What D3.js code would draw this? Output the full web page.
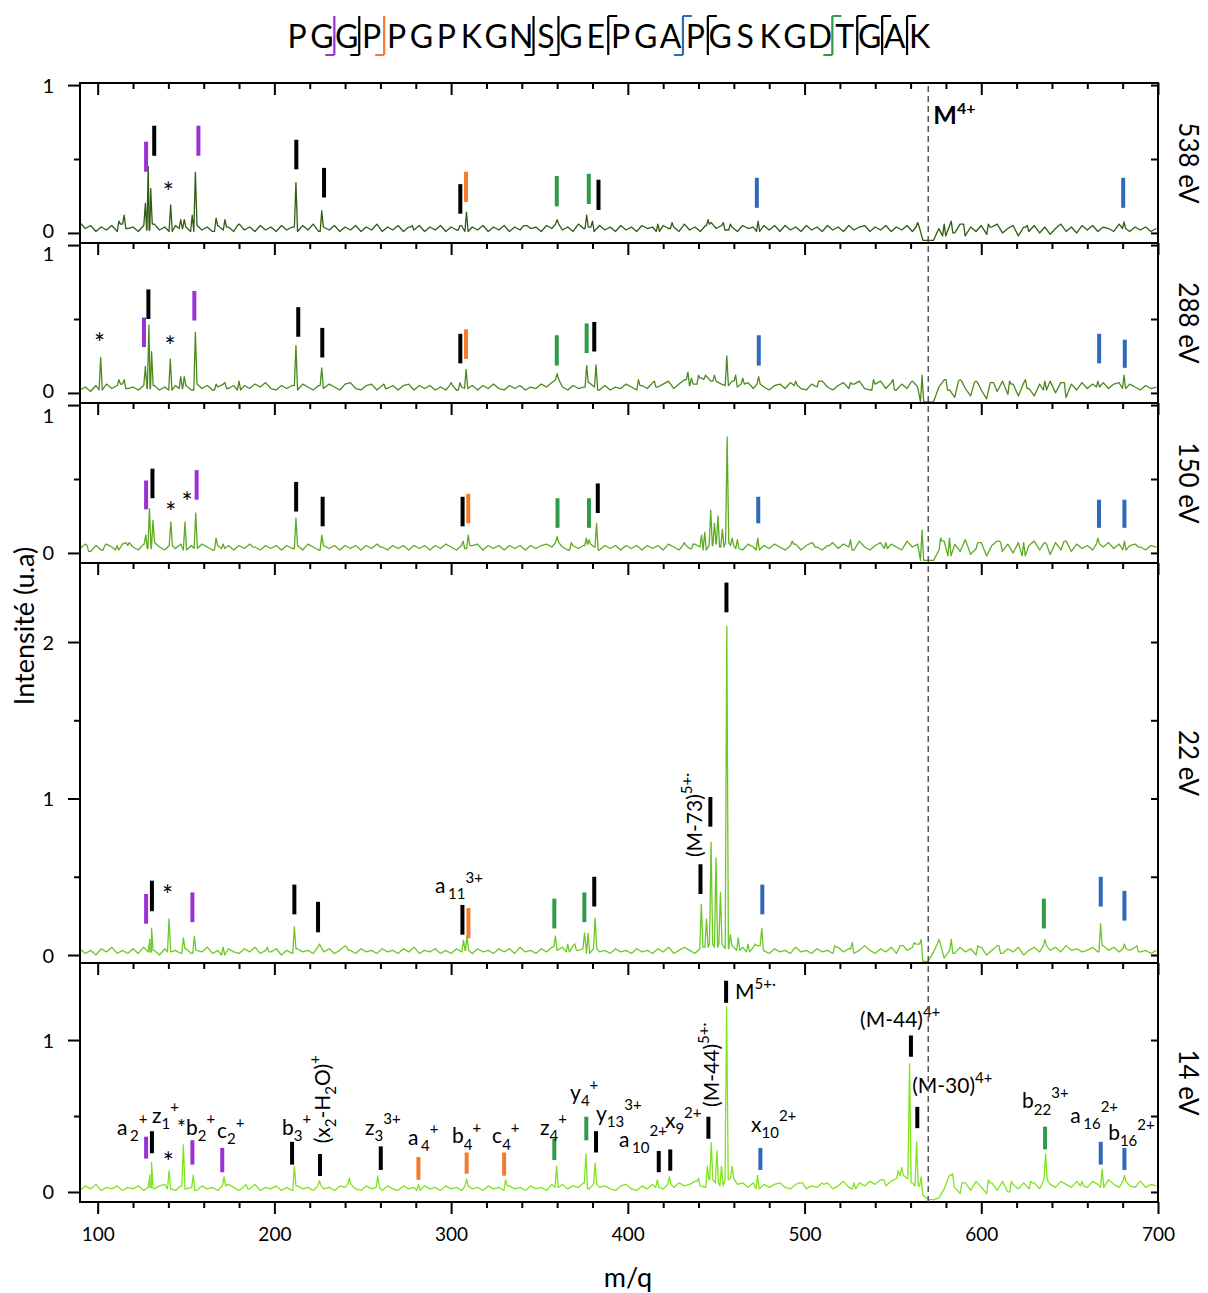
<!DOCTYPE html>
<html><head><meta charset="utf-8">
<script src="https://cdn.jsdelivr.net/npm/d3@7"></script>
<style>body{margin:0;background:#fff} svg{font-family:Lato,"Open Sans",sans-serif}</style>
</head><body><svg id="c" width="1208" height="1293"></svg>
<script>
// ---------- DATA ----------
const residues = "PGGPPGPKGNSGEPGAPGSKGDTGAK".split("");
// [index after which cleavage occurs, shape (b=bottom foot, t=top bar, s=both), colour key]
const cleavages = [[1,"b","p"],[2,"b","k"],[3,"b","o"],[9,"b","k"],[10,"b","k"],[12,"t","k"],[15,"s","bl"],[16,"t","k"],[21,"s","g"],[22,"t","k"],[23,"t","k"],[24,"t","k"]];
const energies = ["538 eV","288 eV","150 eV","22 eV","14 eV"];
const xMajorTicks = [100,200,300,400,500,600,700];
const xTickLabels = ["100","200","300","400","500","600","700"];
const parentMz = 570;

// baselines: intensity x100, m/q = 90 + 3*i
const base538 = [7,3,5,1,4,2,5,1,6,3, 4,1,5,2,6,2,4,1,5,3, 4,1,5,2,4,1,5,2,4,1, 5,2,4,1,5,2,4,1,5,2, 4,1,5,2,6,1,4,2,5,1,
 4,2,5,1,4,2,6,1,4,2, 5,1,4,2,5,1,4,2,5,1, 4,2,5,1,4,2,5,1,4,2, 5,1,4,2,5,3,4,1,5,3, 6,2,4,1,6,3,4,1,5,2,
 4,1,5,2,4,1,5,3,4,1, 5,3,4,1,6,2,4,1,5,6, 3,5,2,4,1,5,3,4,1,5, 2,4,1,5,2,4,1,5,2,4, 1,5,2,4,1,5,2,4,5,1,
 4,2,5,1,4,2,5,1,4,-5, -5,-5,3,-2,5,0,6,-2,4,1, 5,-1,4,6,0,3,5,-2,4,1, 5,0,4,-1,3,6,1,4,0,5, 2,5,1,4,3,1,6,3,1,4, 2,4,1,3];
const base288 = [2,4,1,5,2,6,3,5,6,3, 4,2,5,3,5,2,4,2,5,3, 5,2,6,3,5,2,4,6,3,5, 2,5,3,6,4,7,3,2,5,3, 5,2,6,4,2,5,3,6,4,2,
 6,7,3,2,5,6,2,5,3,5, 2,5,6,2,5,3,5,2,4,2, 5,2,4,3,5,2,5,3,6,3, 2,5,3,5,2,4,3,6,4,7, 9,4,2,5,3,4,7,4,2,5,
 2,4,3,6,4,2,5,3,7,4, 6,8,3,6,9,5,6,10,12,8, 8,6,5,8,4,6,7,3,6,4, 2,5,6,3,7,5,3,2,6,4, 8,4,2,5,7,3,6,8,3,2,
 6,8,3,7,2,6,3,7,4,-6, -6,-6,4,9,2,-3,8,3,-2,7, 2,-4,7,1,8,-1,6,-2,7,3, -2,6,2,8,0,7,-3,6,2,7, 3,6,4,7,3,6,7,3,6,4, 2,5,3,4];
const base150 = [3,6,1,5,2,6,4,2,6,7, 4,2,6,3,7,4,2,5,3,6, 2,5,3,6,4,2,5,3,5,2, 5,3,6,4,2,5,3,5,2,5, 3,5,2,6,4,2,5,3,5,2,
 5,3,5,2,5,3,6,4,2,5, 3,5,2,5,3,5,2,5,3,6, 4,2,5,3,5,6,2,5,3,5, 2,5,3,5,2,5,3,5,6,4, 7,4,2,5,3,5,6,4,2,5,
 3,5,2,5,3,5,2,5,3,5, 2,6,4,2,5,3,6,4,2,5, 6,4,7,5,3,2,6,4,2,5, 3,6,4,2,5,6,2,5,7,4, 2,5,7,3,6,4,2,8,4,2,
 5,7,3,6,4,2,8,4,6,-5, -5,-5,2,8,-2,6,1,9,-1,3, 7,-2,5,8,1,6,0,7,-2,5, 8,2,6,-1,7,2,8,1,6,3, 5,2,6,4,7,3,6,2,5,6, 4,2,5,4];
const base22 = [4,1,3,0,4,2,5,1,3,1, 4,1,5,2,3,0,4,2,3,1, 4,1,3,2,5,1,3,0,4,2, 1,4,2,5,1,3,2,4,0,3, 1,4,2,3,1,5,2,4,1,3,
 6,3,1,4,2,3,1,4,2,3, 1,4,2,5,1,3,2,4,1,3, 1,4,2,3,1,4,2,3,1,4, 2,4,1,5,2,3,1,4,2,5, 3,5,2,6,3,4,1,4,2,3,
 1,4,2,3,1,4,2,3,1,4, 2,4,1,3,5,3,1,4,5,7, 5,7,4,6,3,5,2,5,6,3, 1,4,2,3,1,4,2,3,1,4, 2,3,1,5,2,4,1,3,6,3,
 1,4,2,5,1,6,3,5,7,-4, -4,2,7,-2,3,1,5,2,4,0, 5,0,3,6,1,4,2,5,0,3, 5,2,6,3,5,2,6,3,4,2, 3,5,2,6,3,5,2,4,3,5, 2,3,1,3];
const base14 = [1,4,2,5,1,3,2,4,1,3, 2,4,1,3,2,4,5,2,1,4, 2,3,1,4,2,3,1,4,5,3, 1,4,2,5,1,3,2,4,1,3, 1,4,2,3,1,4,2,3,1,4,
 3,5,2,1,4,2,3,1,4,2, 1,4,2,3,1,4,2,3,1,4, 2,3,1,4,2,3,1,4,2,3, 1,4,2,3,1,4,2,3,1,5, 3,5,2,4,3,6,2,5,3,4,
 2,1,4,5,2,1,4,2,5,3, 2,5,3,6,4,5,7,4,3,8, 6,4,8,9,5,6,3,6,2,5, 3,5,6,3,2,5,6,2,4,3, 5,6,2,4,7,3,2,6,4,7,
 5,8,4,7,9,11,9,6,4,-2, -5,-5,-4,2,11,3,-1,6,1,7, 3,-1,6,1,7,0,5,2,6,2, 6,2,8,5,3,7,5,3,7,4, 3,7,5,3,8,5,3,7,4,3, 6,3,5,4];

// peaks: [m/q, intensity]
const peaks538 = [[112,0.08],[115,0.12],[127,0.2],[128.6,0.45],[130,0.3],[141.3,0.19],[147,0.09],[149,0.09],[153.5,0.12],[155.3,0.41],[167,0.1],[172,0.09],[180,0.06],[212.2,0.34],[226.8,0.15],[278,0.05],[305,0.05],[308.7,0.14],[342,0.05],[360,0.09],[376.7,0.12],[380,0.08],[417,0.06],[425,0.07],[445.4,0.09],[447,0.07],[454,0.07],[458,0.06],[473.7,0.08],[483,0.05],[564,0.07],[579,0.06],[583,0.08],[590,0.06],[604,0.06],[626,0.05],[680.8,0.075]];
const peaks288 = [[101.7,0.24],[112,0.09],[115,0.09],[127,0.18],[129,0.46],[130.5,0.28],[141.1,0.23],[147,0.11],[149,0.11],[155.3,0.41],[167,0.06],[172,0.07],[180,0.08],[212.2,0.32],[226.8,0.17],[262,0.06],[300,0.07],[305,0.07],[308.5,0.16],[360,0.13],[376.7,0.185],[382,0.19],[406,0.09],[415,0.08],[434,0.14],[436,0.1],[440,0.12],[443,0.09],[449,0.12],[456,0.25],[461,0.12],[465,0.1],[474,0.11],[495,0.08],[508,0.08],[526,0.07],[539,0.09],[550,0.09],[561,0.08],[566.5,0.12],[580,0.09],[588,0.09],[597,0.08],[606,0.07],[616,0.08],[625,0.09],[636,0.08],[647,0.07],[666,0.08],[680.8,0.12]];
const peaks150 = [[94,0.05],[104,0.05],[111,0.05],[117,0.05],[127.2,0.12],[129.3,0.3],[131.3,0.22],[141.4,0.21],[149.4,0.21],[155.5,0.27],[167,0.1],[171,0.06],[187,0.05],[212.2,0.235],[226.8,0.12],[259,0.05],[306.8,0.08],[309.7,0.12],[360,0.11],[368,0.07],[376.5,0.1],[378,0.09],[382.3,0.2],[432,0.07],[437,0.06],[441.7,0.12],[443.5,0.14],[446.9,0.29],[449,0.2],[451,0.25],[453.5,0.16],[456.2,0.785],[459,0.1],[462,0.09],[473.5,0.1],[493,0.08],[505,0.06],[515,0.06],[526,0.09],[546,0.07],[566.5,0.155],[577,0.1],[582,0.1],[598,0.07],[611,0.07],[624,0.07],[636,0.07],[646,0.05],[666,0.1],[681,0.08],[688,0.05]];
const peaks22 = [[129.5,0.1],[130.5,0.17],[140.4,0.23],[148.5,0.11],[154.7,0.12],[171,0.05],[196,0.05],[211.3,0.18],[225.5,0.07],[241,0.05],[307,0.095],[309,0.12],[359,0.12],[366,0.07],[370,0.07],[375.5,0.14],[377.5,0.14],[381.5,0.235],[423,0.05],[441.6,0.325],[444.5,0.23],[447.1,0.72],[449.9,0.62],[452.4,0.4],[456,2.1],[458,0.13],[462.5,0.11],[468,0.07],[472,0.07],[475.8,0.17],[495,0.05],[517,0.06],[527,0.08],[555,0.06],[562,0.08],[566,0.1],[576,0.1],[583,0.1],[598,0.06],[610,0.06],[636,0.1],[667.5,0.2],[681,0.07],[688,0.06]];
const peaks14 = [[129.5,0.11],[130.5,0.195],[140.4,0.14],[148.5,0.31],[154.1,0.11],[171.5,0.1],[184,0.05],[211.3,0.17],[225.5,0.075],[242.4,0.09],[258.5,0.105],[281.5,0.05],[308.8,0.085],[330.8,0.08],[359.7,0.17],[376.3,0.25],[381.5,0.19],[416.7,0.08],[423.5,0.1],[440,0.09],[445,0.17],[447.2,0.325],[450.4,0.27],[453,0.17],[455.9,1.22],[459,0.17],[473.4,0.11],[498,0.06],[510,0.06],[528,0.06],[545,0.08],[553,0.14],[555,0.16],[559.4,0.845],[563.4,0.33],[566,0.1],[583.8,0.12],[589,0.06],[604,0.08],[617,0.07],[628,0.07],[636.4,0.25],[657,0.07],[668.4,0.15],[681,0.11],[690,0.07]];

// fragment markers: [m/q, bottom, top, colour key]
const marks538 = [[127.4,0.414,0.617,"p"],[132,0.522,0.725,"k"],[157,0.522,0.725,"p"],[212.4,0.43,0.63,"k"],[228.1,0.24,0.44,"k"],[305.2,0.13,0.33,"k"],[308.4,0.21,0.414,"o"],[359.8,0.18,0.385,"g"],[377.9,0.196,0.4,"g"],[383.4,0.155,0.36,"k"],[473,0.17,0.373,"bl"],[680.3,0.17,0.373,"bl"]];
const marks288 = [[126.2,0.31,0.51,"p"],[128.7,0.5,0.7,"k"],[154.7,0.49,0.69,"p"],[213.5,0.38,0.58,"k"],[227.1,0.24,0.44,"k"],[305.2,0.2,0.4,"k"],[308.4,0.23,0.43,"o"],[359.8,0.185,0.39,"g"],[376.7,0.27,0.47,"g"],[381,0.28,0.48,"k"],[474.1,0.185,0.39,"bl"],[666.7,0.2,0.4,"bl"],[681.2,0.17,0.36,"bl"]];
const marks150 = [[127.4,0.295,0.49,"p"],[131,0.37,0.57,"k"],[156,0.36,0.56,"p"],[212.3,0.28,0.48,"k"],[227.3,0.18,0.38,"k"],[306.5,0.18,0.38,"k"],[309.7,0.2,0.4,"o"],[360.2,0.17,0.37,"g"],[378,0.17,0.37,"g"],[383,0.27,0.47,"k"],[473.8,0.2,0.38,"bl"],[666.6,0.17,0.36,"bl"],[681,0.17,0.36,"bl"]];
const marks22 = [[127.4,0.2,0.39,"p"],[130.7,0.28,0.475,"k"],[153.6,0.21,0.4,"p"],[211.3,0.26,0.45,"k"],[224.7,0.145,0.34,"k"],[306.4,0.13,0.32,"k"],[309.8,0.107,0.3,"o"],[358.4,0.17,0.36,"g"],[375.4,0.21,0.4,"g"],[381,0.31,0.5,"k"],[441.1,0.39,0.58,"k"],[446.7,0.82,1.01,"k"],[455.8,2.19,2.38,"k"],[476.1,0.26,0.45,"bl"],[635.4,0.17,0.36,"g"],[667.6,0.31,0.5,"bl"],[681,0.22,0.41,"bl"]];
const marks14 = [[127.4,0.22,0.364,"p"],[130.7,0.255,0.4,"k"],[153.6,0.18,0.34,"p"],[170.5,0.13,0.29,"p"],[210,0.18,0.33,"k"],[225.8,0.105,0.25,"k"],[260.2,0.145,0.3,"k"],[281.5,0.08,0.23,"o"],[308.8,0.12,0.26,"o"],[330,0.107,0.26,"o"],[358.4,0.21,0.35,"g"],[376.5,0.34,0.495,"g"],[382,0.26,0.4,"k"],[417.5,0.13,0.27,"k"],[424,0.14,0.28,"k"],[445.6,0.35,0.495,"k"],[455.6,1.245,1.39,"k"],[475,0.145,0.29,"bl"],[560.2,0.89,1.03,"k"],[563.8,0.42,0.56,"k"],[636.1,0.28,0.43,"g"],[667.6,0.18,0.33,"bl"],[681,0.145,0.29,"bl"]];

// asterisks: [m/q, intensity at centre]
const stars538 = [[140,0.3]];
const stars288 = [[101,0.36],[141,0.335]];
const stars150 = [[141.4,0.3],[150.5,0.365]];
const stars22 = [[139.5,0.4]];
const stars14 = [[140,0.22]];

// text labels: [m/q (left), intensity (baseline), text]  (_{} subscript, ^{} superscript)
const labels22 = [[290.9,0.396,"a\u2009_{11}^{3+}"]];
const labels14 = [[110.9,0.375,"a\u2009_{2}^{+}"],[130.7,0.454,"z_{1}^{+}"],[144.9,0.375,"*b_{2}^{+}"],[167.5,0.355,"c_{2}^{+}"],[204.3,0.375,"b_{3}^{+}"],[251.3,0.375,"z_{3}^{3+}"],[275.6,0.31,"a\u2009_{4}^{+}"],[300.5,0.32,"b_{4}^{+}"],[323.2,0.32,"c_{4}^{+}"],[350.3,0.375,"z_{4}^{+}"],[367.3,0.605,"y_{4}^{+}"],[382,0.47,"y_{13}^{3+}"],[395,0.296,"a\u2009_{10}^{2+}"],[421,0.42,"x_{9}^{2+}"],[460.7,1.27,"M^{5+\u00b7}"],[469.7,0.395,"x_{10}^{2+}"],[531.4,1.085,"(M-44)^{4+}"],[560.9,0.65,"(M-30)^{4+}"],[623.1,0.55,"b_{22}^{3+}"],[650.3,0.454,"a\u2009_{16}^{2+}"],[671.8,0.342,"b_{16}^{2+}"]];
// rotated labels: [m/q (baseline), intensity (start), text]
const rot22 = [[442,0.626,"(M-73)^{5+\u00b7}"]];
const rot14 = [[231.5,0.32,"(x_{2}-H_{2}O)^{+}"],[451.6,0.56,"(M-44)^{5+\u00b7}"]];

// ---------- STYLE / LAYOUT ----------
const colors = {k:"#000000", p:"#9a31d4", o:"#f47b2c", g:"#2f9a48", bl:"#2e6ab8"};
const lineColors = ["#2f5c10","#4a8a1c","#5cab20","#6bc925","#7ee51c"];
const panels = [
  {top:83, bottom:243, dom:[-0.068,1.014], major:[0,1], minor:[0.5], rt:[0,0.5,1], lab1dy:0, lab0dy:-2, base:base538, peaks:peaks538, marks:marks538, stars:stars538, labels:[], rot:[]},
  {top:243, bottom:403, dom:[-0.068,1.014], major:[0,1], minor:[0.5], rt:[0,0.5,1], lab1dy:8, lab0dy:-2, base:base288, peaks:peaks288, marks:marks288, stars:stars288, labels:[], rot:[]},
  {top:403, bottom:563, dom:[-0.068,1.014], major:[0,1], minor:[0.5], rt:[0,0.5,1], lab1dy:10, lab0dy:0, base:base150, peaks:peaks150, marks:marks150, stars:stars150, labels:[], rot:[]},
  {top:563, bottom:963, dom:[-0.051,2.505], major:[0,1,2], minor:[0.5,1.5], rt:[0,0.5,1,1.5,2], lab1dy:0, lab0dy:0, base:base22, peaks:peaks22, marks:marks22, stars:stars22, labels:labels22, rot:rot22},
  {top:963, bottom:1202, dom:[-0.066,1.507], major:[0,1], minor:[0.5], rt:[0,0.5,1], lab1dy:0, lab0dy:0, base:base14, peaks:peaks14, marks:marks14, stars:stars14, labels:labels14, rot:rot14}
];
const L = 80, R = 1158;
const LAB = 21, SUB = 15;

const svg = d3.select("#c");
const x = d3.scaleLinear().domain([90,700]).range([L,R]);
const xMinor = d3.range(100,701,20).filter(v => v % 100 !== 0);

function buildPoints(base, peaks){
  const w = 0.9;
  const nearest = m => base[Math.max(0,Math.min(base.length-1, Math.round((m-90)/3)))]/100;
  let pts = base.map((v,i)=>[90+3*i, v/100]).filter(p => !peaks.some(q => Math.abs(q[0]-p[0]) < w+0.3));
  peaks.forEach(q => { pts.push([q[0]-w, nearest(q[0]-w)], [q[0], q[1]], [q[0]+w, nearest(q[0]+w)]); });
  pts.sort((a,b)=>a[0]-b[0]);
  return pts;
}

function richText(sel, str, size, subSize){
  const parts = str.match(/(_\{[^}]*\}|\^\{[^}]*\}|[^_^]+)/g);
  let cur = 0;
  parts.forEach(p => {
    let target = 0, txt = p, fs = size;
    if (p.startsWith("_{")) { target = size*0.3; txt = p.slice(2,-1); fs = subSize; }
    else if (p.startsWith("^{")) { target = -size*0.5; txt = p.slice(2,-1); fs = subSize; }
    sel.append("tspan").attr("dy", target-cur).attr("font-size", fs).text(txt);
    cur = target;
  });
}

const defs = svg.append("defs");

panels.forEach((p,i) => {
  const y = d3.scaleLinear().domain(p.dom).range([p.bottom,p.top]);
  defs.append("clipPath").attr("id","cp"+i).append("rect")
    .attr("x",L).attr("y",p.top).attr("width",R-L).attr("height",p.bottom-p.top);
  const g = svg.append("g");
  // spectrum
  g.append("path").datum(buildPoints(p.base,p.peaks))
    .attr("clip-path",`url(#cp${i})`)
    .attr("fill","none").attr("stroke",lineColors[i]).attr("stroke-width",1.3).attr("stroke-linejoin","round")
    .attr("d", d3.line().x(d=>x(d[0])).y(d=>y(d[1])));
  // markers
  g.selectAll("rect.mk").data(p.marks).join("rect")
    .attr("x", d=>x(d[0])-2).attr("width",4)
    .attr("y", d=>y(d[2])).attr("height", d=>y(d[1])-y(d[2]))
    .attr("fill", d=>colors[d[3]]);
  // stars
  g.selectAll("text.st").data(p.stars).join("text")
    .attr("x", d=>x(d[0])).attr("y", d=>y(d[1])+13).attr("text-anchor","middle")
    .attr("font-size",26).text("*");
  // labels
  p.labels.forEach(l => {
    const t = g.append("text").attr("x", x(l[0])).attr("y", y(l[1])).attr("font-size",LAB);
    richText(t, l[2], LAB, SUB);
  });
  p.rot.forEach(l => {
    const t = g.append("text").attr("transform",`translate(${x(l[0])},${y(l[1])}) rotate(-90)`).attr("font-size",LAB);
    richText(t, l[2], LAB, SUB);
  });
  // axes
  const topMaj = g.append("g").attr("transform",`translate(0,${p.top})`).call(d3.axisBottom(x).tickValues(xMajorTicks).tickSize(12).tickFormat(""));
  const topMin = g.append("g").attr("transform",`translate(0,${p.top})`).call(d3.axisBottom(x).tickValues(xMinor).tickSize(6).tickFormat(""));
  const leftMaj = g.append("g").attr("transform",`translate(${L},0)`).call(d3.axisLeft(y).tickValues(p.major).tickSize(12).tickPadding(14).tickFormat(d3.format("d")));
  const leftMin = g.append("g").attr("transform",`translate(${L},0)`).call(d3.axisLeft(y).tickValues(p.minor).tickSize(6).tickFormat(""));
  const right = g.append("g").attr("transform",`translate(${R},0)`).call(d3.axisLeft(y).tickValues(p.rt).tickSize(7).tickFormat(""));
  [topMaj,topMin,leftMaj,leftMin,right].forEach(a => {
    a.select(".domain").remove();
    a.selectAll("line").attr("stroke","#000").attr("stroke-width",2);
  });
  leftMaj.selectAll("text").attr("font-size",20).attr("font-family","Lato").attr("fill","#000")
    .attr("dy", d => (d===1 ? p.lab1dy : d===0 ? p.lab0dy : 0) + 7);
  // panel frame
  g.append("line").attr("x1",L-1).attr("x2",R+1).attr("y1",p.top).attr("y2",p.top).attr("stroke","#000").attr("stroke-width",2);
  // energy label
  g.append("text").attr("transform",`translate(1179,${(p.top+p.bottom)/2}) rotate(90)`)
    .attr("text-anchor","middle").attr("font-size",26).text(energies[i]);
  if (i === 4) {
    const bot = g.append("g").attr("transform",`translate(0,${p.bottom})`).call(d3.axisBottom(x).tickValues(xMajorTicks).tickSize(12).tickPadding(14).tickFormat((d,k)=>xTickLabels[k]));
    const botMin = g.append("g").attr("transform",`translate(0,${p.bottom})`).call(d3.axisBottom(x).tickValues(xMinor).tickSize(6).tickFormat(""));
    [bot,botMin].forEach(a => { a.select(".domain").remove(); a.selectAll("line").attr("stroke","#000").attr("stroke-width",2); });
    bot.selectAll("text").attr("font-size",19).attr("font-family","Lato").attr("fill","#000");
    g.append("line").attr("x1",L-1).attr("x2",R+1).attr("y1",p.bottom).attr("y2",p.bottom).attr("stroke","#000").attr("stroke-width",2);
  }
});
// vertical frame lines
svg.append("line").attr("x1",L).attr("x2",L).attr("y1",83).attr("y2",1202).attr("stroke","#000").attr("stroke-width",2);
svg.append("line").attr("x1",R).attr("x2",R).attr("y1",83).attr("y2",1202).attr("stroke","#000").attr("stroke-width",2);

// parent ion dashed line
svg.append("line").attr("x1",x(parentMz)).attr("x2",x(parentMz)).attr("y1",86).attr("y2",1202)
  .attr("stroke","#555").attr("stroke-width",1.5).attr("stroke-dasharray","6,4");
const m4 = svg.append("text").attr("x",x(parentMz)+5).attr("y",124).attr("font-size",25).attr("font-weight","bold");
m4.append("tspan").text("M");
m4.append("tspan").attr("dy",-10).attr("font-size",16).text("4+");

// axis titles
svg.append("text").attr("x",628).attr("y",1287).attr("text-anchor","middle").attr("font-size",27).text("m/q");
svg.append("text").attr("transform","translate(34,626) rotate(-90)").attr("text-anchor","middle").attr("font-size",27).text("Intensité (u.a)");

// peptide sequence
const seqX0 = 297, seqStep = 24.9, seqBase = 48;
const seq = svg.append("g");
seq.selectAll("text").data(residues).join("text")
  .attr("x",(d,i)=>seqX0+i*seqStep).attr("y",seqBase).attr("text-anchor","middle")
  .attr("font-size",32).text(d=>d);
cleavages.forEach(c => {
  const cx = seqX0 + (c[0]+0.5)*seqStep;
  const yt = 16, yb = 55, f = 9;
  let d = `M${cx},${yt}L${cx},${yb}`;
  if (c[1]==="b" || c[1]==="s") d += `M${cx},${yb}L${cx-f},${yb}`;
  if (c[1]==="t" || c[1]==="s") d += `M${cx},${yt}L${cx+f},${yt}`;
  seq.append("path").attr("d",d).attr("fill","none").attr("stroke",colors[c[2]]).attr("stroke-width",2.2);
});
</script>
</body></html>
